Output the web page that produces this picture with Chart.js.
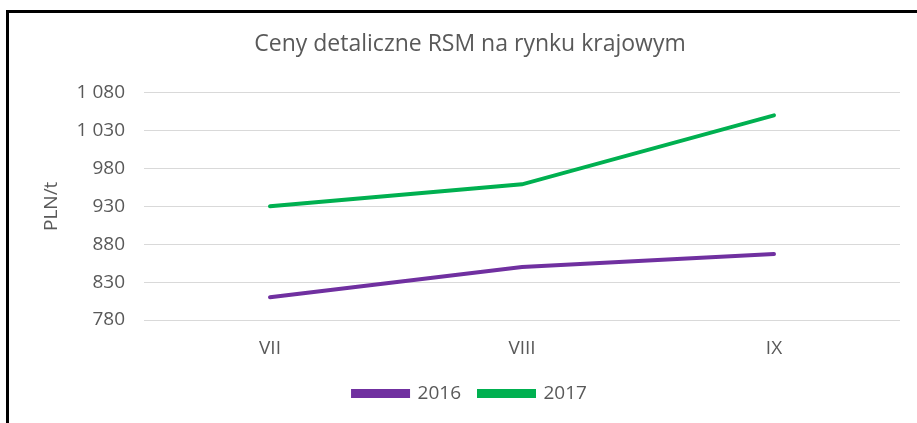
<!DOCTYPE html>
<html>
<head>
<meta charset="utf-8">
<script src="https://cdn.jsdelivr.net/npm/chart.js@4"></script>
<style>
  html,body{margin:0;padding:0;background:#fff;}
  #frame{position:absolute;left:6px;top:10px;width:911px;height:413px;border-top:3px solid #000;border-left:3px solid #000;box-sizing:border-box;}
  #wrap{position:absolute;left:0;top:0;width:917px;height:423px;}
</style>
</head>
<body>
<div id="frame"></div>
<div id="wrap"><canvas id="chart" width="917" height="423"></canvas></div>
<script>
const months = ['VII','VIII','IX'];
const prices2016 = [810, 850, 867];
const prices2017 = [930, 959, 1050];
const yTickLabels = ['780','830','880','930','980','1 030','1 080'];

const txt = '#595959';
const ctx = document.getElementById('chart').getContext('2d');
new Chart(ctx,{
  type:'line',
  data:{labels:months, datasets:[
    {label:'2016', data:prices2016, borderColor:'#7030a0', backgroundColor:'#7030a0', borderWidth:4, borderCapStyle:'round', pointRadius:0, tension:0},
    {label:'2017', data:prices2017, borderColor:'#00b050', backgroundColor:'#00b050', borderWidth:4, borderCapStyle:'round', pointRadius:0, tension:0}
  ]},
  options:{
    responsive:false, animation:false,
    layout:{padding:{left:40,right:17,top:0,bottom:10}},
    font:{family:'"Open Sans", sans-serif'},
    plugins:{
      title:{display:true, text:'Ceny detaliczne RSM na rynku krajowym', color:txt,
        font:{size:23, weight:'normal', family:'"Open Sans", sans-serif'}, padding:{top:31,bottom:34}},
      legend:{position:'bottom', labels:{color:txt, boxWidth:55, boxHeight:5, padding:18,
        font:{size:19, family:'"Open Sans", sans-serif'}}},
      tooltip:{enabled:false}
    },
    scales:{
      x:{offset:true, grid:{display:false}, border:{display:false},
        ticks:{color:txt, padding:9, font:{size:19}},
        afterFit:s=>{s.height=46;}},
      y:{min:780, max:1080,
        grid:{color:'#d9d9d9', lineWidth:1, drawTicks:false}, border:{display:false},
        ticks:{stepSize:50, color:txt, padding:19, font:{size:19},
          callback:(v,i)=>yTickLabels[i]},
        title:{display:true, text:'PLN/t', color:txt, font:{size:19}, padding:{top:0,bottom:0}},
        afterFit:s=>{s.width=104;}}
    }
  }
});
</script>
</body>
</html>
